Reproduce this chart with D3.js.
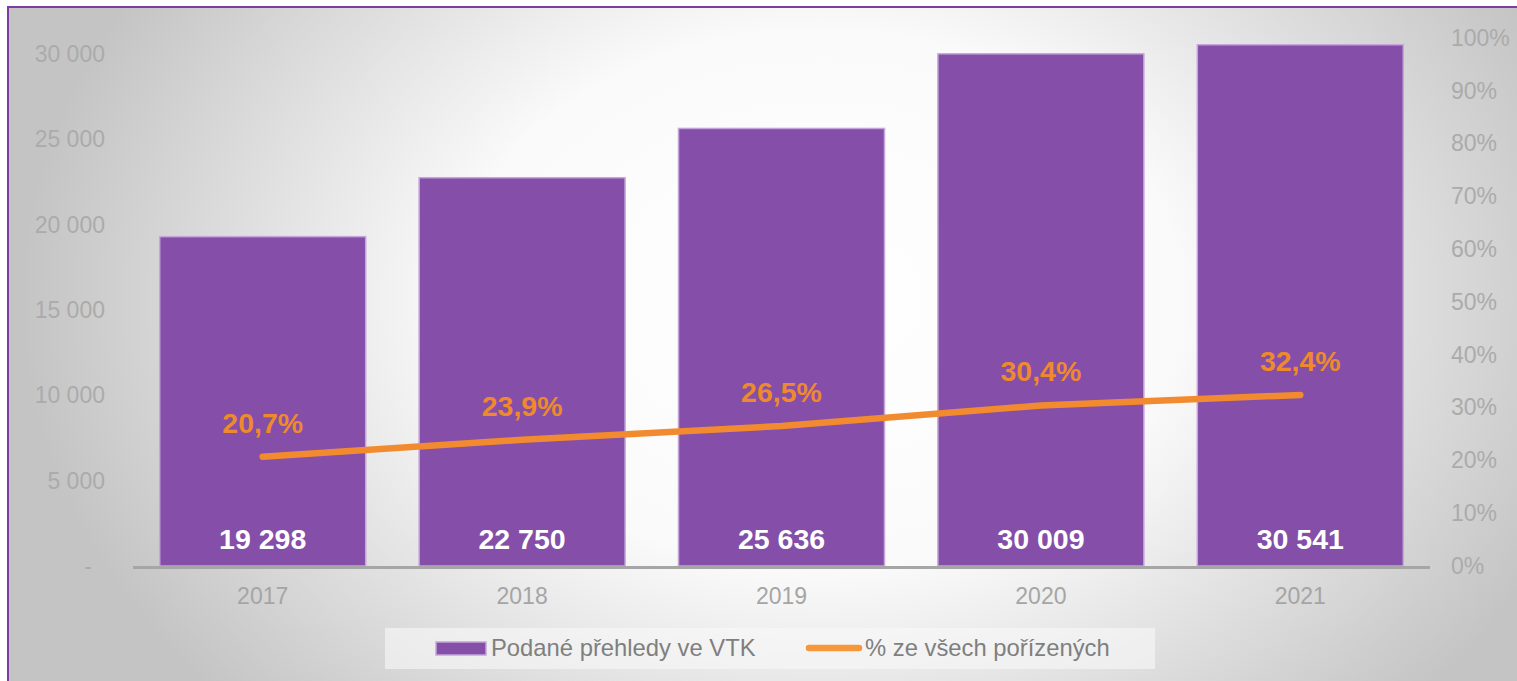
<!DOCTYPE html>
<html><head><meta charset="utf-8">
<script src="https://cdn.jsdelivr.net/npm/d3@7"></script>
<style>
html,body{margin:0;padding:0;background:#fff;}
svg{display:block;font-family:"Liberation Sans",Arial,sans-serif;}
</style></head>
<body>
<svg id="chart" width="1517" height="681"></svg>
<script>
const years = ["2017","2018","2019","2020","2021"];
const counts = [19298, 22750, 25636, 30009, 30541];
const shares = [0.207, 0.239, 0.265, 0.304, 0.324];
const leftTicks = [0, 5000, 10000, 15000, 20000, 25000, 30000];
const rightTicks = [0,0.1,0.2,0.3,0.4,0.5,0.6,0.7,0.8,0.9,1.0];
const seriesNames = ["Podané přehledy ve VTK", "% ze všech pořízených"];

const svg = d3.select("#chart");
const defs = svg.append("defs");
const rg = defs.append("radialGradient").attr("id","bg")
  .attr("gradientUnits","userSpaceOnUse")
  .attr("cx",820).attr("cy",300).attr("r",800)
  .attr("gradientTransform","translate(820,300) scale(1,0.75) translate(-820,-300)");
rg.append("stop").attr("offset",0).attr("stop-color","#ffffff");
rg.append("stop").attr("offset",0.45).attr("stop-color","#fafafa");
rg.append("stop").attr("offset",1).attr("stop-color","#c4c4c4");

svg.append("rect").attr("x",8).attr("y",7).attr("width",1530).attr("height",700)
  .attr("fill","url(#bg)").attr("stroke","#7d3d9e").attr("stroke-width",2);

const y0 = 566, yTop = 38;
const yL = d3.scaleLinear().domain([0, 30936]).range([y0, yTop]);
const yR = d3.scaleLinear().domain([0, 1]).range([y0, yTop]);
const x = d3.scaleBand().domain(years).range([133,1430]).paddingInner(0.206).paddingOuter(0.103);

// bars
svg.append("g").selectAll("rect").data(years).join("rect")
  .attr("x", d => x(d)).attr("width", x.bandwidth())
  .attr("y", (d,i) => yL(counts[i])).attr("height", (d,i) => y0 - yL(counts[i]))
  .attr("fill","#844ea9").attr("stroke","#c5a6da").attr("stroke-width",1.5);

// x axis line
svg.append("line").attr("x1",133).attr("x2",1430).attr("y1",y0+1.5).attr("y2",y0+1.5)
  .attr("stroke","#a6a6a6").attr("stroke-width",3);

// left axis
const fmt = d => d === 0 ? "-" : d3.format(",")(d).replace(/,/g," ");
const gL = svg.append("g").attr("transform","translate(105,0)")
  .call(d3.axisLeft(yL).tickValues(leftTicks).tickFormat(fmt).tickSize(0).tickPadding(0));
gL.select(".domain").remove();
gL.selectAll("text").attr("fill","#ababab").attr("font-size",23).attr("font-family","Liberation Sans, Arial, sans-serif");
gL.selectAll(".tick").filter(d => d === 0).select("text").attr("text-anchor","middle").attr("x",-17);

// right axis
const gR = svg.append("g").attr("transform","translate(1451,0)")
  .call(d3.axisRight(yR).tickValues(rightTicks).tickFormat(d => Math.round(d*100)+"%").tickSize(0).tickPadding(0));
gR.select(".domain").remove();
gR.selectAll("text").attr("fill","#ababab").attr("font-size",23).attr("font-family","Liberation Sans, Arial, sans-serif");

// bottom axis labels
const gX = svg.append("g").attr("transform",`translate(0,${y0})`)
  .call(d3.axisBottom(x).tickSize(0).tickPadding(22));
gX.select(".domain").remove();
gX.selectAll("text").attr("fill","#a5a5a5").attr("font-size",23).attr("font-family","Liberation Sans, Arial, sans-serif");

// line
const cx = d => x(d) + x.bandwidth()/2;
const line = d3.line().x((d,i) => cx(years[i])).y(d => yR(d));
svg.append("path").datum(shares).attr("d", line)
  .attr("fill","none").attr("stroke","#f28b2f").attr("stroke-width",6.5)
  .attr("stroke-linecap","round").attr("stroke-linejoin","round");

// percent labels
svg.append("g").selectAll("text").data(shares).join("text")
  .attr("x",(d,i) => cx(years[i])).attr("y", d => yR(d) - 24)
  .attr("text-anchor","middle").attr("font-weight","bold").attr("font-size",28.5)
  .attr("fill","#ee8a2c")
  .text(d => (d*100).toFixed(1).replace(".",",") + "%");

// value labels
svg.append("g").selectAll("text").data(counts).join("text")
  .attr("x",(d,i) => cx(years[i])).attr("y", y0 - 17)
  .attr("text-anchor","middle").attr("font-weight","bold").attr("font-size",28.5)
  .attr("fill","#ffffff")
  .text(d => d3.format(",")(d).replace(/,/g," "));

// legend
const lg = svg.append("g");
lg.append("rect").attr("x",385).attr("y",628).attr("width",770).attr("height",41).attr("fill","#f8f8f8").attr("opacity",0.6);
lg.append("rect").attr("x",436).attr("y",642).attr("width",50).attr("height",13)
  .attr("fill","#844ea9").attr("stroke","#c5a6da").attr("stroke-width",1.5);
lg.append("text").attr("x",491).attr("y",656).attr("font-size",23.8).attr("fill","#7f7f7f").text(seriesNames[0]);
lg.append("line").attr("x1",809).attr("x2",859).attr("y1",648).attr("y2",648)
  .attr("stroke","#f7963a").attr("stroke-width",6.5).attr("stroke-linecap","round");
lg.append("text").attr("x",865).attr("y",656).attr("font-size",23.8).attr("fill","#7f7f7f").text(seriesNames[1]);
</script>
</body></html>
